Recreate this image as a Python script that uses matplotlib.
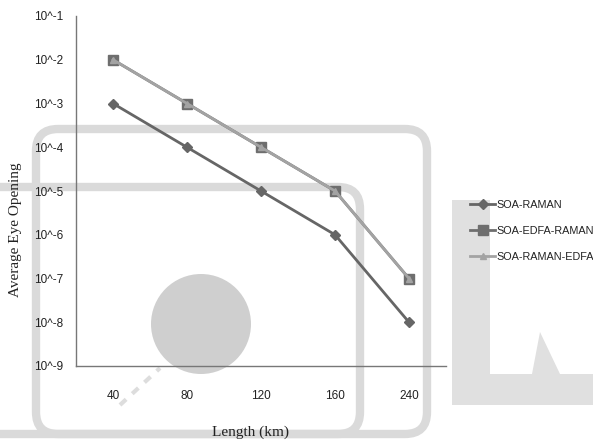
import numpy as np
import matplotlib
matplotlib.use('Agg')
import matplotlib.pyplot as plt
from matplotlib.patches import FancyBboxPatch, Circle, Polygon

# data
lengths = ['40', '80', '120', '160', '240']
soa_raman = [1e-3, 1e-4, 1e-5, 1e-6, 1e-8]
soa_edfa_raman = [1e-2, 1e-3, 1e-4, 1e-5, 1e-7]
soa_raman_edfa = [1e-2, 1e-3, 1e-4, 1e-5, 1e-7]
ytick_vals = [1e-1, 1e-2, 1e-3, 1e-4, 1e-5, 1e-6, 1e-7, 1e-8, 1e-9]
ytick_labels = ['10^-1', '10^-2', '10^-3', '10^-4', '10^-5', '10^-6', '10^-7', '10^-8', '10^-9']

W, H = 593, 446
fig = plt.figure(figsize=(W / 100, H / 100), dpi=100)
sans = ['Liberation Sans', 'DejaVu Sans']

# faint watermark behind the chart
bg = fig.add_axes([0, 0, 1, 1], zorder=0)
bg.set_xlim(0, W)
bg.set_ylim(H, 0)
bg.axis('off')
wm = '#dadada'
bg.add_patch(FancyBboxPatch((36, 129), 391, 305, boxstyle='round,pad=0,rounding_size=22',
                            fill=False, ec=wm, lw=6))
bg.add_patch(FancyBboxPatch((-60, 187), 420, 247, boxstyle='round,pad=0,rounding_size=22',
                            fill=False, ec=wm, lw=6))
bg.add_patch(Circle((201, 324), 50, color='#cfcfcf', lw=0))
bg.add_patch(Polygon([(452, 200), (490, 200), (490, 374), (532, 374), (540, 332),
                      (560, 374), (593, 374), (593, 405), (452, 405)],
                     closed=True, color='#e0e0e0', lw=0))
bg.plot([120, 160], [405, 368], color='#dddddd', lw=3, ls=(0, (2, 2)))

ax = fig.add_axes([76 / W, 1 - 366 / H, 370 / W, 350 / H], zorder=1)
ax.patch.set_alpha(0)

x = np.arange(len(lengths))
ax.plot(x, soa_raman, color='#666666', lw=2.0, marker='D', ms=5, label='SOA-RAMAN')
ax.plot(x, soa_edfa_raman, color='#6e6e6e', lw=2.0, marker='s', ms=7, label='SOA-EDFA-RAMAN')
ax.plot(x, soa_raman_edfa, color='#a3a3a3', lw=2.0, marker='^', ms=5, label='SOA-RAMAN-EDFA')

ax.set_yscale('log')
ax.set_ylim(1e-9, 1e-1)
ax.set_xlim(-0.5, 4.5)
ax.set_xticks(x)
ax.set_xticklabels(lengths)
ax.set_yticks(ytick_vals)
ax.set_yticklabels(ytick_labels)
ax.yaxis.set_minor_locator(matplotlib.ticker.NullLocator())
ax.tick_params(axis='both', length=0, labelsize=8.5, colors='#222222')
ax.tick_params(axis='y', pad=9)
ax.tick_params(axis='x', pad=17)
for lab in ax.get_xticklabels() + ax.get_yticklabels():
    lab.set_fontfamily(sans)

for s in ['top', 'right']:
    ax.spines[s].set_visible(False)
for s in ['left', 'bottom']:
    ax.spines[s].set_color('#777777')
    ax.spines[s].set_linewidth(1.0)

fig.text(16 / W, 1 - 230 / H, 'Average Eye Opening', rotation=90, ha='center', va='center',
         family='Liberation Serif', fontsize=11, color='#222222')
fig.text(250 / W, 1 - 432 / H, 'Length (km)', ha='center', va='center',
         family='Liberation Serif', fontsize=11, color='#222222')

leg = ax.legend(loc='center left', bbox_to_anchor=(466 / W, 1 - 231 / H),
                bbox_transform=fig.transFigure, frameon=False,
                prop={'family': sans, 'size': 7.8}, handlelength=2.3,
                handletextpad=0.15, labelspacing=1.5, borderaxespad=0)
for t in leg.get_texts():
    t.set_color('#222222')

fig.savefig('out.png', dpi=100)
